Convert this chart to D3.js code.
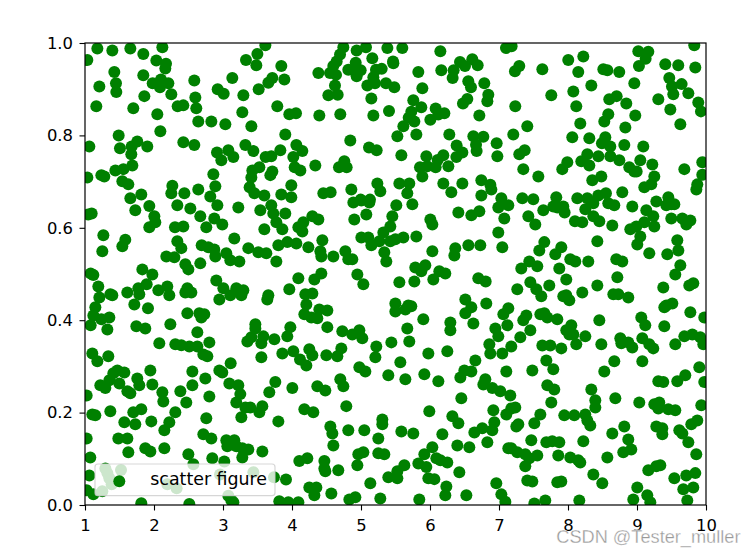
<!DOCTYPE html>
<html><head><meta charset="utf-8">
<script src="https://cdn.jsdelivr.net/npm/d3@7/dist/d3.min.js"></script>
<style>html,body{margin:0;padding:0;background:#fff}svg{display:block}</style></head>
<body><div id="chart"></div>
<script>
const xTicks=[1,2,3,4,5,6,7,8,9,10];
const yTicks=[0,0.2,0.4,0.6,0.8,1.0];
const legendLabel="scatter figure";
const watermark="CSDN @Tester_muller";
const pointsTop=[[1.179,.988],[1.396,.984],[1.657,.988],[1.845,.976],[2.121,.991],[1.034,.963],[2.034,.962],[2.174,.955],[2.164,.945],[1.425,.937],[1.845,.93],[1.449,.913],[1.208,.906],[1.454,.894],[1.981,.913],[2.101,.921],[2.208,.913],[2.087,.904],[2.584,.919],[1.86,.885],[2.251,.889],[1.164,.863],[1.7,.859],[2.048,.846],[2.343,.863],[2.425,.865],[2.599,.882],[2.613,.859],[2.642,.83],[2.831,.83],[3.034,.824],[2.092,.809],[1.488,.8],[2.923,.9],[3.01,.89],[3.135,.924],[3.295,.887],[3.28,.85],[3.411,.82],[3.787,.863],[3.961,.846],[4.058,.848],[3.903,.802],[3.333,.963],[3.498,.976],[3.483,.952],[3.614,.995],[3.845,.95],[3.889,.921],[3.715,.924],[3.657,.914],[3.517,.9],[1.063,.776],[1.507,.772],[1.758,.787],[1.676,.776],[1.903,.776],[1.671,.759],[2.425,.785],[2.584,.779],[1.686,.735],[1.556,.727],[1.44,.724],[1.034,.709],[1.237,.714],[1.28,.711],[1.541,.701],[1.628,.694],[2.913,.763],[3.077,.768],[3.15,.753],[2.976,.746],[3.324,.779],[3.44,.766],[3.831,.768],[3.7,.755],[3.618,.753],[4.063,.779],[4.019,.753],[4.039,.731],[3.527,.731],[3.425,.724],[3.715,.722],[3.686,.714],[3.411,.709],[2.86,.716],[2.889,.69],[3.386,.688],[3.99,.692],[2.266,.691],[2.251,.675],[2.44,.675],[2.642,.683],[2.816,.668],[1.657,.664],[1.816,.672],[3.454,.675],[3.599,.67],[3.845,.672],[3.99,.666],
[4.744,.991],[4.937,.984],[5.072,.991],[5.382,.989],[5.599,.989],[6.15,.982],[4.696,.975],[4.647,.96],[4.599,.95],[4.551,.935],[4.382,.935],[4.638,.931],[5.164,.967],[5.464,.96],[5.469,.956],[4.816,.942],[4.923,.957],[4.913,.939],[4.995,.941],[4.937,.928],[5.217,.942],[5.3,.944],[5.179,.926],[5.203,.913],[5.092,.908],[5.362,.913],[5.483,.904],[5.831,.937],[5.889,.902],[4.623,.908],[4.527,.887],[4.662,.888],[5.15,.88],[6.164,.941],[6.343,.941],[6.435,.959],[6.507,.95],[6.613,.965],[6.691,.952],[6.328,.924],[6.555,.917],[6.594,.904],[6.787,.913],[6.845,.888],[6.831,.874],[6.541,.879],[6.478,.869],[5.758,.876],[5.874,.861],[5.729,.851],[5.773,.83],[5.614,.82],[5.691,.838],[6.082,.858],[6.208,.848],[6.005,.834],[6.121,.845],[6.715,.843],[5.406,.853],[5.179,.843],[4.7,.846],[4.396,.843],[5.527,.798],[5.802,.802],[6.28,.802],[4.845,.789],[6.628,.798],[6.773,.797],[6.667,.78],[6.966,.783],[6.676,.766],[6.976,.755],[6.386,.778],[6.469,.763],[6.382,.753],[5.116,.774],[5.227,.768],[5.585,.757],[5.947,.755],[6.193,.757],[6.111,.747],[6.266,.733],[6.082,.731],[5.855,.731],[5.961,.733],[5.889,.711],[4.758,.744],[4.681,.731],[4.792,.731],[4.338,.735],[4.15,.766],[4.121,.724],[4.86,.683],[5.237,.696],[5.28,.679],[5.556,.696],[5.7,.696],[5.671,.675],[6.193,.696],[6.469,.696],[6.309,.677],[6.744,.703],[6.874,.693],[6.889,.683],[6.744,.67],[7.034,.664],[4.454,.675],[4.56,.677],[4.995,.661],[5.13,.661],
[7.101,.989],[7.183,.993],[7.231,.939],[7.294,.95],[7.628,.943],[8.004,.963],[8.222,.971],[8.149,.937],[8.512,.943],[8.57,.941],[8.743,.937],[8.338,.908],[8.077,.895],[7.758,.887],[7.236,.863],[8.12,.863],[7.41,.82],[7.207,.802],[8.178,.826],[8.062,.796],[8.309,.794],[8.526,.83],[8.584,.846],[8.598,.878],[8.705,.885],[8.845,.869],[8.975,.843],[8.831,.817],[8.961,.913],[9.028,.95],[9.019,.982],[9.164,.981],[9.125,.966],[9.41,.954],[9.598,.952],[9.845,.947],[9.83,.995],[9.468,.924],[9.507,.906],[9.647,.911],[9.744,.891],[9.526,.889],[9.309,.878],[9.483,.856],[9.888,.871],[9.927,.852],[9.628,.824],[8.541,.796],[8.492,.783],[8.613,.776],[8.816,.779],[9.091,.776],[8.28,.759],[8.44,.755],[8.613,.755],[8.744,.746],[8.193,.744],[8.309,.735],[7.99,.742],[7.917,.727],[7.352,.727],[7.57,.711],[7.372,.768],[7.294,.759],[9.048,.746],[9.222,.737],[8.888,.731],[8.961,.722],[8.995,.722],[9.251,.711],[9.207,.694],[9.106,.688],[9.686,.727],[9.946,.742],[9.946,.715],[9.874,.694],[9.86,.683],[8.483,.711],[8.352,.703],[8.787,.677],[8.55,.675],[8.439,.67],[8.28,.664],[8.135,.664],[7.83,.666],[7.497,.662],[7.338,.664],[9.454,.666]];
const pointsMiddle=[[2.918,.649],[1.932,.647],[1.729,.638],[2.338,.649],[2.527,.642],[3.222,.644],[3.541,.638],[3.7,.649],[3.729,.631],[3.903,.631],[2.671,.625],[2.874,.62],[2.99,.607],[2.758,.601],[1.097,.631],[1.048,.629],[2.005,.625],[2.019,.612],[1.932,.601],[2.304,.601],[2.425,.603],[3.599,.597],[3.773,.612],[3.86,.597],[4.092,.601],[1.266,.584],[1.584,.574],[1.541,.56],[1.251,.549],[2.338,.571],[3.164,.577],[2.396,.556],[2.691,.562],[2.787,.558],[2.874,.553],[2.889,.538],[3.048,.545],[3.367,.556],[3.512,.547],[3.628,.545],[3.802,.562],[3.932,.569],[4.063,.566],[2.179,.538],[2.295,.536],[3.106,.53],[3.237,.527],[3.773,.527],[2.454,.521],[2.498,.51],[2.671,.523],[1.831,.51],[1.976,.499],[1.082,.501],[1.121,.498],[2.903,.486],[3.005,.469],[1.894,.478],[1.773,.469],[2.193,.473],[2.063,.465],[2.222,.454],[1.193,.473],[1.367,.456],[1.396,.454],[1.613,.46],[1.787,.456],[2.483,.469],[2.454,.46],[2.541,.46],[3.193,.469],[3.295,.465],[3.266,.454],[3.106,.454],[2.947,.445],[3.961,.467],[3.657,.454],[3.642,.445],[4.092,.491],[1.208,.449],[1.715,.434],[1.913,.426],[1.15,.428],[1.121,.41],[1.353,.406],[1.237,.402],[1.082,.389],[1.324,.38],[2.483,.415],[2.657,.415],[2.729,.413],[2.686,.406],[1.744,.387],[1.874,.382],[2.237,.391],[3.469,.391],[3.469,.382],[2.628,.374],[3.976,.385],[3.932,.365],[3.585,.365],[3.411,.363],[3.353,.354],[3.744,.359],[3.556,.35],[2.077,.35],[2.802,.352],[2.309,.348],[2.396,.346],[2.512,.343],[2.628,.343],[1.106,.328],[3.86,.328],
[6.99,.644],[7.077,.62],[4.889,.655],[5.005,.659],[5.121,.655],[5.077,.629],[4.903,.618],[5.512,.649],[5.744,.651],[5.454,.625],[5.425,.603],[5.324,.59],[6.411,.633],[6.599,.627],[6.715,.636],[6.005,.618],[6.034,.607],[6.99,.59],[7.048,.558],[4.295,.625],[4.382,.618],[4.164,.612],[4.15,.592],[5.005,.579],[5.106,.579],[5.15,.562],[5.266,.571],[5.425,.571],[5.498,.575],[5.614,.579],[5.802,.581],[4.44,.573],[4.237,.558],[4.411,.549],[4.425,.538],[4.599,.538],[4.773,.549],[4.816,.532],[4.874,.532],[5.338,.547],[5.367,.527],[6.034,.549],[6.367,.556],[6.353,.54],[6.556,.562],[6.729,.562],[4.947,.499],[5.034,.478],[4.324,.488],[4.425,.501],[5.556,.482],[5.773,.484],[5.787,.514],[5.932,.519],[5.874,.506],[6.048,.488],[6.135,.506],[6.222,.501],[6.7,.491],[6.807,.484],[4.193,.456],[4.295,.458],[4.208,.434],[6.512,.445],[6.816,.436],[6.599,.428],[6.512,.415],[6.628,.393],[7.063,.413],[7.135,.426],[7.121,.389],[5.498,.436],[5.498,.419],[5.643,.423],[5.729,.43],[5.686,.432],[4.179,.413],[4.28,.406],[4.367,.404],[4.396,.423],[4.512,.421],[5.903,.402],[4.512,.385],[6.295,.395],[6.295,.378],[5.671,.382],[5.7,.354],[4.729,.376],[4.874,.369],[4.976,.378],[5.019,.361],[5.44,.352],[5.222,.343],[6.947,.382],[6.99,.365],[6.86,.348],[4.715,.339],[4.251,.337],[4.019,.333],[5.976,.328],[6.251,.333],
[9.28,.657],[7.135,.649],[7.642,.638],[7.787,.646],[7.932,.646],[7.951,.633],[7.845,.644],[8.251,.64],[8.367,.653],[8.584,.653],[8.671,.649],[8.932,.646],[9.497,.651],[9.135,.638],[9.236,.625],[9.425,.649],[9.541,.651],[7.425,.625],[7.526,.607],[8.101,.614],[8.207,.612],[8.454,.614],[8.367,.625],[8.642,.605],[8.903,.597],[8.99,.603],[9.106,.612],[9.251,.603],[9.497,.62],[9.657,.62],[9.715,.607],[9.773,.616],[9.048,.581],[9.004,.564],[8.425,.571],[7.657,.569],[7.584,.551],[7.903,.558],[7.816,.543],[9.584,.573],[9.599,.551],[9.439,.543],[9.178,.545],[8.033,.532],[8.106,.527],[8.294,.527],[8.7,.532],[8.787,.527],[7.439,.527],[7.323,.512],[7.555,.517],[7.874,.512],[9.628,.519],[9.555,.499],[8.715,.493],[7.975,.488],[7.454,.482],[7.265,.467],[7.541,.467],[7.729,.475],[7.613,.452],[8.425,.475],[8.207,.46],[7.932,.452],[7.975,.454],[8.019,.443],[8.657,.456],[8.729,.456],[8.874,.449],[9.381,.471],[9.816,.48],[9.758,.475],[9.512,.436],[9.425,.432],[9.396,.428],[9.773,.417],[7.396,.41],[7.352,.4],[7.599,.413],[7.657,.415],[7.7,.406],[7.845,.402],[8.454,.4],[9.062,.406],[9.12,.389],[9.396,.387],[9.975,.406],[7.454,.378],[7.309,.363],[7.178,.343],[8.048,.389],[7.975,.378],[8.019,.369],[8.077,.369],[8.251,.365],[9.077,.361],[8.758,.361],[8.773,.35],[8.874,.352],[8.932,.341],[9.178,.348],[9.236,.339],[9.555,.348],[9.686,.365],[9.802,.369],[9.917,.363],[9.961,.348],[7.628,.345],[7.743,.345],[7.903,.339],[8.12,.348],[8.483,.348],[7.048,.328]];
const pointsBottom=[[1.179,.311],[1.338,.322],[2.715,.326],[2.773,.322],[3.556,.32],[3.111,.307],[2.947,.291],[2.99,.287],[1.947,.291],[1.57,.287],[1.469,.291],[1.411,.285],[1.353,.27],[1.222,.259],[1.295,.253],[1.498,.263],[1.614,.246],[1.657,.242],[1.758,.274],[1.787,.259],[1.976,.261],[2.121,.244],[2.135,.224],[2.382,.246],[2.468,.222],[2.556,.289],[2.556,.259],[2.744,.274],[2.802,.235],[3.092,.263],[3.222,.259],[3.251,.24],[3.193,.222],[3.324,.211],[3.396,.211],[3.57,.214],[3.527,.201],[3.671,.244],[3.758,.266],[4.005,.253],[1.024,.237],[1.367,.203],[1.106,.196],[1.15,.194],[1.816,.207],[1.7,.201],[1.57,.179],[1.729,.175],[1.961,.181],[2.309,.201],[2.222,.179],[2.15,.162],[2.758,.188],[3.266,.19],[3.802,.181],[1.483,.144],[1.614,.144],[2.715,.153],[2.831,.144],[3.048,.14],[3.164,.14],[3.063,.127],[3.193,.127],[3.28,.123],[3.367,.12],[3.28,.103],[3.57,.116],[1.874,.123],[1.947,.116],[2.15,.123],[1.628,.114],[2.498,.11],[1.077,.103],[2.845,.101],[3.019,.094],[2.57,.088],[1.063,.064],[1.024,.032],[1.121,.023],[1.816,.004],[2.512,.002],[3.121,.01],[3.15,.006],[3.816,.008],[3.947,.006],[4.092,.006],[1.024,.144],[1.295,.079],[1.324,.069],[1.353,.058],[1.386,.045],[1.251,.03],[1.522,.076],[2.193,.045],[2.328,.036],[2.957,.066],[3.44,.071],[3.739,.06],[3.077,.02],[3.913,.055],
[4.116,.315],[4.208,.302],[4.295,.324],[4.498,.324],[4.657,.322],[5.208,.32],[5.57,.309],[4.976,.298],[5.063,.289],[5.396,.281],[5.643,.272],[5.918,.283],[6.121,.268],[6.44,.276],[6.498,.291],[6.599,.289],[6.657,.313],[6.874,.328],[7.106,.289],[4.7,.272],[4.744,.257],[4.367,.257],[4.483,.248],[6.802,.272],[6.773,.261],[6.903,.253],[7.019,.246],[7.164,.237],[6.454,.231],[4.179,.207],[4.309,.201],[4.787,.214],[5.99,.203],[6.324,.192],[6.411,.177],[6.918,.205],[7.106,.196],[6.932,.179],[4.556,.17],[4.585,.155],[4.816,.162],[5.048,.162],[5.309,.185],[5.309,.175],[5.585,.159],[5.758,.155],[5.251,.144],[6.179,.153],[6.643,.157],[6.758,.166],[6.903,.162],[6.831,.136],[6.396,.129],[6.57,.125],[7.135,.123],[4.599,.129],[5.034,.114],[4.961,.11],[5.251,.112],[5.338,.11],[6.034,.125],[5.918,.11],[6.092,.101],[6.15,.097],[6.251,.092],[5.831,.09],[5.947,.082],[5.628,.086],[5.527,.073],[4.947,.086],[4.469,.095],[4.222,.101],[4.106,.095],[4.469,.079],[4.483,.073],[4.671,.075],[6.425,.071],[5.396,.06],[5.527,.058],[5.976,.058],[6.063,.056],[5.135,.047],[6.961,.047],[6.237,.04],[6.222,.021],[6.527,.021],[7.034,.023],[7.092,.007],[4.251,.038],[4.353,.038],[4.324,.021],[4.57,.025],[4.831,.012],[4.918,.017],[5.28,.014],[5.845,.012],
[7.686,.313],[7.787,.294],[7.483,.291],[8.671,.311],[9.077,.311],[8.526,.289],[9.903,.298],[9.7,.281],[9.584,.268],[9.309,.268],[9.381,.266],[9.975,.266],[7.7,.259],[7.801,.25],[8.338,.25],[8.396,.227],[8.686,.231],[7.758,.222],[9.033,.222],[8.396,.211],[9.251,.218],[9.323,.222],[9.309,.209],[9.454,.207],[9.555,.205],[9.932,.216],[7.236,.211],[7.178,.209],[7.599,.196],[7.512,.177],[7.946,.194],[8.091,.194],[8.251,.196],[8.28,.183],[8.323,.172],[8.816,.17],[9.874,.183],[9.787,.175],[7.28,.175],[7.251,.17],[9.28,.17],[9.367,.166],[9.367,.153],[9.613,.162],[9.657,.155],[9.744,.136],[8.642,.155],[7.468,.14],[7.686,.136],[7.772,.138],[7.874,.136],[8.222,.138],[8.874,.142],[8.917,.12],[8.801,.114],[7.178,.123],[7.265,.114],[7.381,.11],[7.555,.107],[7.439,.101],[7.381,.084],[7.859,.107],[9.859,.11],[8.033,.103],[8.149,.097],[8.178,.092],[8.57,.103],[9.164,.075],[9.28,.084],[9.338,.086],[8.367,.066],[8.497,.047],[9.845,.069],[9.714,.064],[9.541,.058],[7.41,.053],[7.483,.051],[7.845,.049],[7.903,.051],[9.004,.038],[9.816,.038],[9.671,.034],[9.149,.021],[9.193,.006],[8.946,.012],[9.729,.01],[8.164,.01],[7.671,.01],[7.512,.003]];
const points=[...pointsTop,...pointsMiddle,...pointsBottom];

const W=756,H=555,m={l:85,r:706,t:43,b:505};
const green="#008000",ink="#000";
const x=d3.scaleLinear().domain([1,10]).range([m.l,m.r]);
const y=d3.scaleLinear().domain([0,1]).range([m.b,m.t]);
const svg=d3.select("#chart").append("svg").attr("width",W).attr("height",H).attr("viewBox",`0 0 ${W} ${H}`);
svg.append("defs").append("clipPath").attr("id","plot").append("rect")
  .attr("x",m.l).attr("y",m.t).attr("width",m.r-m.l).attr("height",m.b-m.t);
svg.append("g").attr("clip-path","url(#plot)").selectAll("circle").data(points).join("circle")
  .attr("cx",d=>x(d[0])).attr("cy",d=>y(d[1])).attr("r",6).attr("fill",green);
const font="'DejaVu Sans',sans-serif";
const gx=svg.append("g").attr("transform",`translate(0,${m.b})`)
  .call(d3.axisBottom(x).tickValues(xTicks).tickFormat(d3.format("d")).tickSize(5.5).tickPadding(8.6));
const gy=svg.append("g").attr("transform",`translate(${m.l},0)`)
  .call(d3.axisLeft(y).tickValues(yTicks).tickFormat(d3.format(".1f")).tickSize(5.5).tickPadding(6.5));
[gx,gy].forEach(g=>{g.selectAll("text").attr("font-family",font).attr("font-size",16.4).attr("fill",ink);
  g.selectAll("line").attr("stroke",ink).attr("stroke-width",1.1);g.select(".domain").remove();});
svg.append("rect").attr("x",m.l).attr("y",m.t).attr("width",m.r-m.l).attr("height",m.b-m.t)
  .attr("fill","none").attr("stroke",ink).attr("stroke-width",1.2);
const lg=svg.append("g");
lg.append("rect").attr("x",95).attr("y",464).attr("width",180).attr("height",31.7).attr("rx",3)
  .attr("fill","rgba(255,255,255,0.8)").attr("stroke","rgba(204,204,204,0.8)").attr("stroke-width",1.2);
lg.append("circle").attr("cx",119.3).attr("cy",481.3).attr("r",6).attr("fill",green);
lg.append("text").attr("x",150.3).attr("y",485).attr("font-family",font).attr("font-size",17.4).attr("fill",ink).text(legendLabel);
svg.append("text").attr("x",740.5).attr("y",543).attr("text-anchor","end").attr("font-family","'Liberation Sans',Arial,sans-serif")
  .attr("font-size",18.2).attr("fill","#999").attr("stroke","#fff").attr("stroke-width",.3).text(watermark);
</script></body></html>
